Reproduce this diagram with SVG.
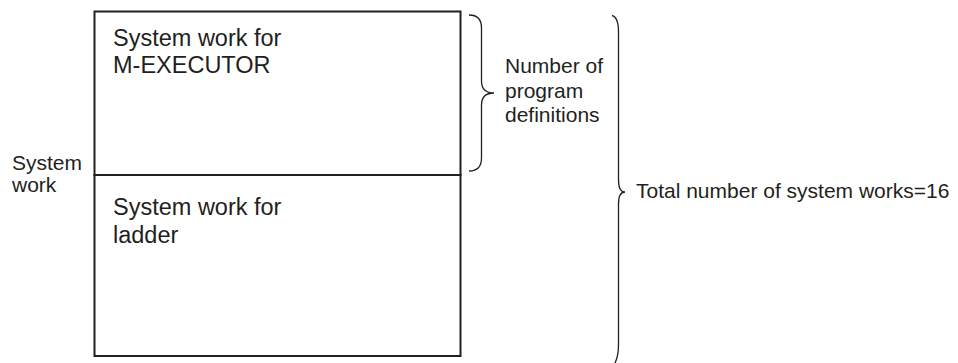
<svg xmlns="http://www.w3.org/2000/svg" width="958" height="363" viewBox="0 0 958 363">
<style>
.box{fill:none;stroke:#231f20;stroke-width:2}
.brace{fill:none;stroke:#231f20;stroke-width:1.3}
.t{font-family:"Liberation Sans",Arial,sans-serif;fill:#231f20}
.big{font-size:23.5px}
.sm{font-size:21px}
</style>
<rect width="958" height="363" fill="#ffffff"/>
<g id="node-mexecutor">
<rect class="box" x="94.5" y="11.5" width="366" height="163.5"/>
<text class="t big" x="113" y="45.5">System work for</text>
<text class="t big" x="113" y="73">M-EXECUTOR</text>
</g>
<g id="node-ladder">
<rect class="box" x="94.5" y="175" width="366" height="181"/>
<text class="t big" x="113" y="215">System work for</text>
<text class="t big" x="113" y="243">ladder</text>
</g>
<g id="label-system-work">
<text class="t sm" x="12" y="169.5">System</text>
<text class="t sm" x="12" y="192">work</text>
</g>
<g id="connectors">
<path class="brace" d="M469,15 C477,15 481.5,19 481.5,28 L481.5,81 C481.5,89 485,93 494,93 C485,93 481.5,97 481.5,105 L481.5,158 C481.5,167 477,171 469,171"/>
<path class="brace" d="M612,15.5 C616,16.5 618.5,22 618.5,32 L618.5,180 C618.5,188 620,192 625,192 C620,192 618.5,196 618.5,204 L618.5,345 C618.5,355 616.5,361 613.5,366"/>
</g>
<g id="label-program-defs">
<text class="t sm" x="505" y="73">Number of</text>
<text class="t sm" x="505" y="97.5">program</text>
<text class="t sm" x="505" y="121.5">definitions</text>
</g>
<g id="label-total">
<text class="t sm" x="636" y="198">Total number of system works=16</text>
</g>
</svg>
